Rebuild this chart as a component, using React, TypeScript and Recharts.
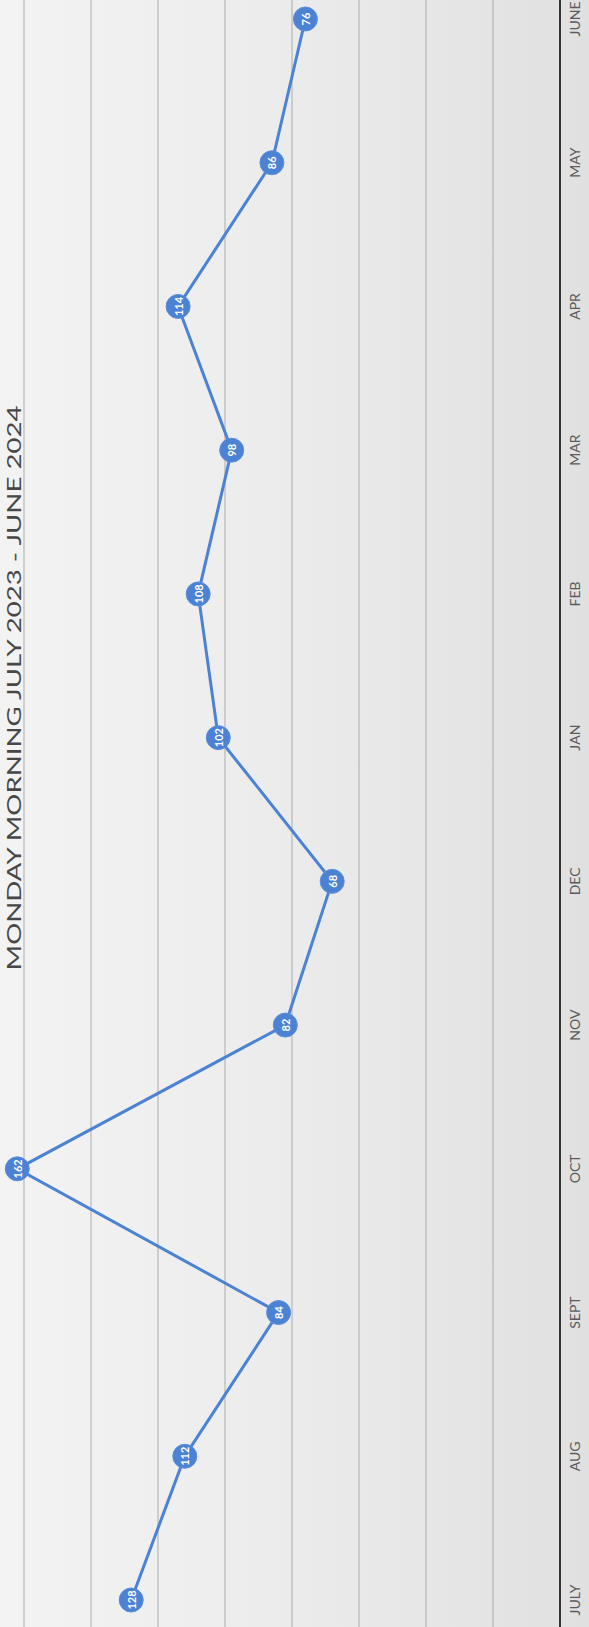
import React from "react";
import { LineChart, Line, XAxis, YAxis, CartesianGrid, LabelList } from "recharts";

const months = ["JULY", "AUG", "SEPT", "OCT", "NOV", "DEC", "JAN", "FEB", "MAR", "APR", "MAY", "JUNE"];
const attendance = [128, 112, 84, 162, 82, 68, 102, 108, 98, 114, 86, 76];
const valueTicks = [0, 20, 40, 60, 80, 100, 120, 140, 160, 180];
const title = "MONDAY MORNING JULY 2023 - JUNE 2024";

const data = months.map((m, i) => ({ month: m, value: attendance[i] }));

const BLUE = "#4c82d3";
const FONT = "Lato, 'Open Sans', 'DejaVu Sans', sans-serif";

const renderDot = (props: any) => {
  const { cx, cy, index } = props;
  return <circle key={`dot-${index}`} cx={cx} cy={cy} r={12} fill={BLUE} stroke="#5a8edb" strokeWidth={1} />;
};

const renderLabel = (props: any) => {
  const { x, y, value, index } = props;
  return (
    <text
      key={`lbl-${index}`}
      x={x}
      y={y}
      textAnchor="middle"
      dominantBaseline="central"
      fill="#ffffff"
      fontSize={11}
      fontWeight={700}
      fontFamily={FONT}
    >
      {value}
    </text>
  );
};

export default function App() {
  const W = 1627;
  const H = 589;
  return (
    <div
      style={{
        position: "fixed",
        left: 0,
        top: 0,
        width: H,
        height: W,
        overflow: "hidden",
        background: "linear-gradient(to right, #f3f3f3 0%, #eeeeee 35%, #e7e7e7 70%, #e0e0e0 100%)",
      }}
    >
      <div
        style={{
          position: "absolute",
          left: 0,
          top: 0,
          width: W,
          height: H,
          transformOrigin: "0 0",
          transform: `translateY(${W}px) rotate(-90deg)`,
          overflow: "hidden",
        }}
      >
        <svg width={W} height={40} style={{ position: "absolute", left: 0, top: 0 }}>
          <text
            x={939}
            y={21}
            textAnchor="middle"
            fontSize={19}
            fontFamily={FONT}
            fill="#474747"
            textLength={565}
            lengthAdjust="spacingAndGlyphs"
          >
            {title}
          </text>
        </svg>
        <div style={{ position: "absolute", left: -72, top: -43 }}>
          <LineChart width={1771} height={636} data={data} margin={{ top: 0, right: 0, bottom: 0, left: 0 }}>
            <CartesianGrid vertical={false} stroke="#ababab" strokeWidth={1} />
            <XAxis
              dataKey="month"
              padding={{ left: 99, right: 91 }}
              axisLine={{ stroke: "#333333", strokeWidth: 2 }}
              tickLine={false}
              tickMargin={4}
              height={33}
              interval={0}
              tick={{ fill: "#5a5a5a", fontSize: 14, fontFamily: FONT }}
            />
            <YAxis hide domain={[0, 180]} ticks={valueTicks} />
            <Line
              type="linear"
              dataKey="value"
              stroke={BLUE}
              strokeWidth={3}
              dot={renderDot}
              activeDot={false}
              isAnimationActive={false}
            >
              <LabelList dataKey="value" content={renderLabel} />
            </Line>
          </LineChart>
        </div>
      </div>
    </div>
  );
}
